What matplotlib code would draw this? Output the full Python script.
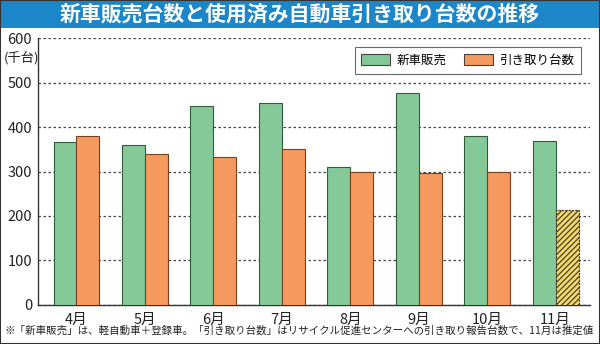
import numpy as np
import matplotlib.pyplot as plt
from matplotlib.patches import Rectangle

plt.rcParams['font.family'] = ['Noto Sans CJK JP', 'DejaVu Sans']
plt.rcParams['hatch.linewidth'] = 0.8

months = ['4月', '5月', '6月', '7月', '8月', '9月', '10月', '11月']
new_sales = [367, 360, 447, 455, 310, 477, 380, 368]
takeback = [380, 340, 333, 350, 298, 296, 298, 213]
estimated = [False, False, False, False, False, False, False, True]

green = '#86c999'
orange = '#f5995e'

fig = plt.figure(figsize=(6, 3.44), dpi=100)
ax = fig.add_axes([0.063, 0.1134, 0.92, 0.7761])

x = np.arange(len(months))
w = 0.335
ax.bar(x - w / 2, new_sales, w, color=green, edgecolor='#2f5d3c', linewidth=0.8,
       label='新車販売', zorder=3)
bars = ax.bar(x + w / 2, takeback, w, color=orange, edgecolor='#7a3f1e', linewidth=0.8,
              label='引き取り台数', zorder=3)
# the last month is an estimate, drawn hatched
for b, est in zip(bars, estimated):
    if est:
        b.set_facecolor('#f2d86a')
        b.set_hatch('//////')
        b.set_edgecolor('#3a3320')
        b.set_linestyle((0, (2, 1)))

ax.set_xlim(-0.565, 7.5)
ax.set_ylim(0, 600)
ax.set_yticks(range(0, 601, 100))
ax.set_xticks(x)
ax.set_xticklabels(months)
ax.tick_params(axis='both', length=0, labelsize=10.5, colors='#222222', pad=4)
ax.tick_params(axis='x', pad=6)
ax.yaxis.grid(True, linestyle=(0, (2, 2)), color='#444444', linewidth=0.9, zorder=0)
for s in ['top', 'right']:
    ax.spines[s].set_visible(False)
for s in ['left', 'bottom']:
    ax.spines[s].set_color('#333333')
    ax.spines[s].set_linewidth(1.0)

fig.text(4 / 600, 1 - 58 / 344, '(千台)', ha='left', va='center',
         fontsize=9.5, color='#222222')

leg = ax.legend(loc='upper right', bbox_to_anchor=(0.995, 0.99), ncol=2, frameon=True,
                fancybox=False, edgecolor='#444444', fontsize=9, handlelength=2.3,
                handleheight=0.9, handletextpad=0.5, columnspacing=1.4, borderpad=0.55)
leg.get_frame().set_linewidth(0.8)
for h in leg.legend_handles:
    h.set_edgecolor('#444444')
    h.set_hatch(None)
leg.legend_handles[1].set_facecolor(orange)

# title band
fig.patches.append(Rectangle((0, 1 - 28 / 344), 1, 28 / 344, transform=fig.transFigure,
                             facecolor='#1b87c9', edgecolor='none', zorder=0))
fig.text(0.5, 1 - 14 / 344, '新車販売台数と使用済み自動車引き取り台数の推移', ha='center',
         va='center', color='white', fontsize=15, fontweight='bold')

fig.text(0.008, 13 / 344, '※「新車販売」は、軽自動車＋登録車。「引き取り台数」はリサイクル促進センターへの引き取り報告台数で、11月は推定値',
         ha='left', va='center', fontsize=7.55, color='#222222')

fig.patches.append(Rectangle((0, 0), 1, 1, transform=fig.transFigure, facecolor='none',
                             edgecolor='#333333', linewidth=1.5, zorder=10))

fig.savefig('out.png', dpi=100)
